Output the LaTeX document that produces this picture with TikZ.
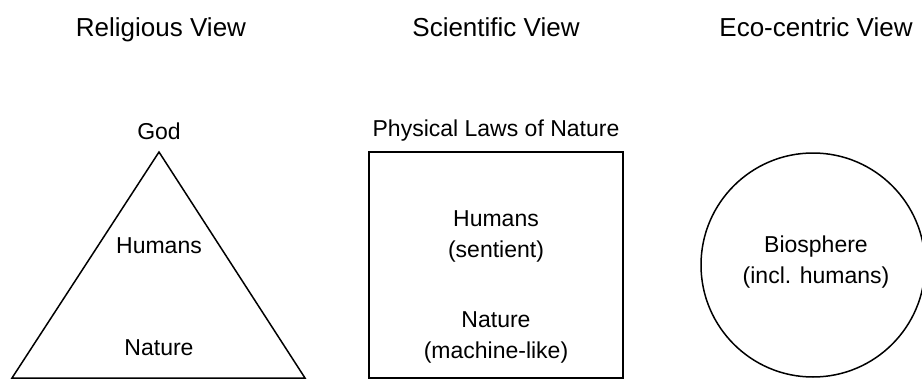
\documentclass[tikz,border=0pt]{standalone}
\usepackage{fontspec}
\setmainfont{Liberation Sans}
\usetikzlibrary{positioning}

\tikzset{
  viewtitle/.style={font=\fontsize{26}{30}\selectfont, anchor=base},
  txt/.style={font=\fontsize{23}{31}\selectfont, align=center, inner sep=0pt},
  outline/.style={draw, line width=1.5pt}
}

\begin{document}
\begin{tikzpicture}[x=1pt, y=-1pt]
  \useasboundingbox (0,0) rectangle (922,380);

  % Titles
  \node[viewtitle] (religious) at (161,36) {Religious View};
  \node[viewtitle] (scientific) at (496,36) {Scientific View};
  \node[viewtitle] (eco) at (816,36) {Eco-centric View};

  % Religious view: triangle
  \coordinate (apex) at (159,152);
  \coordinate (baseL) at (12,378);
  \coordinate (baseR) at (305,378);
  \draw[outline, line join=miter] (apex) -- (baseL) -- (baseR) -- cycle;
  \node[txt] (god) at (159,131) {God};
  \node[txt] (humansR) at (159,246) {Humans};
  \node[txt] (natureR) at (159,348) {Nature};

  % Scientific view: square
  \node[outline, minimum width=254pt, minimum height=226pt] (laws) at (496,265) {};
  \node[txt] (lawsLabel) at (496,131) {Physical Laws of Nature};
  \node[txt] (humansS) at (496,236.5) {Humans\\(sentient)};
  \node[txt] (natureS) at (496,337) {Nature\\(machine-like)};

  % Eco-centric view: circle
  \node[outline, circle, minimum size=224pt, inner sep=0pt] (biosphere) at (813,265) {};
  \node[txt] (bioLabel) at (816,262) {Biosphere\\(incl. humans)};
\end{tikzpicture}
\end{document}
